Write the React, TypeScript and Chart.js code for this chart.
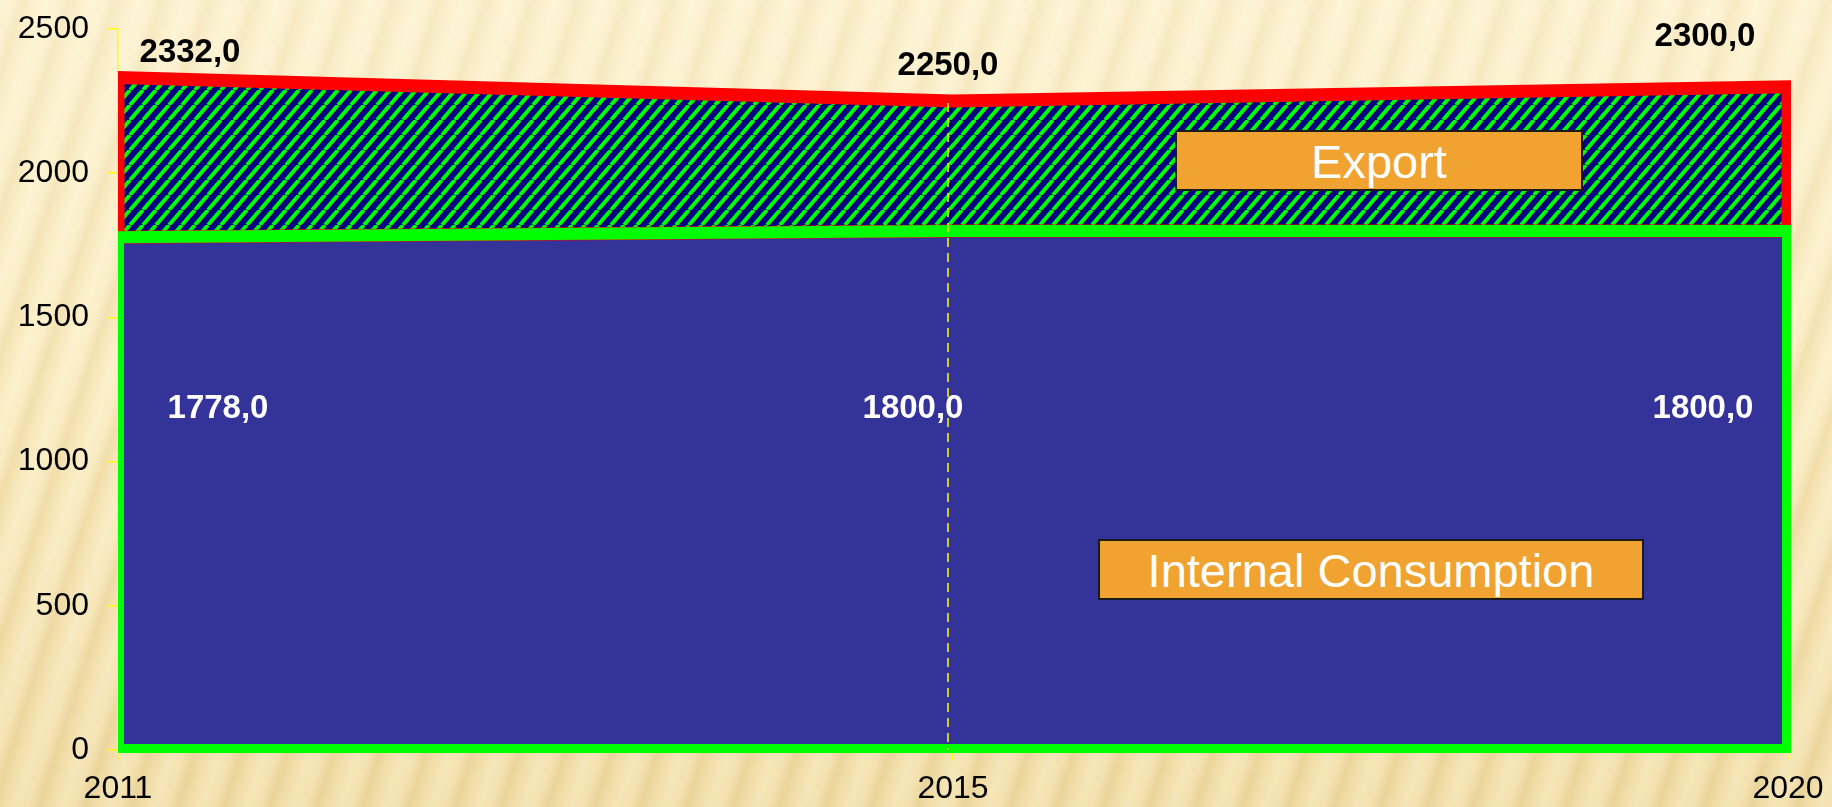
import React, { useEffect, useRef } from "react";
import { Chart, registerables } from "chart.js";

Chart.register(...registerables);

// ---------- data ----------
const years = ["2011", "2015", "2020"];
const internalConsumption = [1778, 1800, 1800];
const totalProduction = [2332, 2250, 2300];
const yTicks = [0, 500, 1000, 1500, 2000, 2500];
const seriesNames = ["Internal Consumption", "Export"];

// ---------- styling ----------
const FONT = "'Liberation Sans', Arial, Helvetica, sans-serif";
const totalLabelOffsets = [
  [72, -15],
  [-5, -26],
  [-83, -41],
];
const internalLabelOffsets = [
  [100, 181],
  [-40, 187],
  [-85, 187],
];

const fmt = (v: number) => v.toFixed(1).replace(".", ",");

function makeHatch(): CanvasPattern | string {
  const w = 13;
  const h = 15;
  const c = document.createElement("canvas");
  c.width = w;
  c.height = h;
  const g = c.getContext("2d");
  if (!g) return "#000080";
  g.fillStyle = "#000080";
  g.fillRect(0, 0, w, h);
  g.strokeStyle = "#00FF00";
  g.lineWidth = 4;
  for (const off of [-w, 0, w]) {
    g.beginPath();
    g.moveTo(off, h);
    g.lineTo(off + w, 0);
    g.stroke();
  }
  const p = g.createPattern(c, "repeat");
  return p || "#000080";
}

const overlayPlugin = {
  id: "overlayPlugin",
  afterDatasetsDraw(chart: any) {
    const ctx: CanvasRenderingContext2D = chart.ctx;
    const area = chart.chartArea;
    const yScale = chart.scales.y;
    const inner = chart.getDatasetMeta(0).data;
    const total = chart.getDatasetMeta(1).data;
    const y0 = yScale.getPixelForValue(0);
    const n = inner.length;

    ctx.save();
    ctx.beginPath();
    ctx.rect(area.left, 0, area.right - area.left + 3, area.bottom + 3);
    ctx.clip();
    ctx.lineJoin = "miter";

    // export outline (red)
    ctx.beginPath();
    total.forEach((p: any, i: number) => (i ? ctx.lineTo(p.x, p.y) : ctx.moveTo(p.x, p.y)));
    for (let i = n - 1; i >= 0; i--) ctx.lineTo(inner[i].x, inner[i].y);
    ctx.closePath();
    ctx.strokeStyle = "#FF0000";
    ctx.lineWidth = 13;
    ctx.stroke();

    // internal outline (green)
    ctx.beginPath();
    ctx.moveTo(inner[0].x, y0);
    inner.forEach((p: any) => ctx.lineTo(p.x, p.y));
    ctx.lineTo(inner[n - 1].x, y0);
    ctx.closePath();
    ctx.strokeStyle = "#00FF00";
    ctx.lineWidth = 12;
    ctx.stroke();
    ctx.restore();

    // drop lines for inner categories
    ctx.save();
    ctx.strokeStyle = "#FFFF00";
    ctx.lineWidth = 1.5;
    ctx.setLineDash([9, 6]);
    for (let i = 1; i < n - 1; i++) {
      ctx.beginPath();
      ctx.moveTo(total[i].x - 5, total[i].y + 2);
      ctx.lineTo(total[i].x - 5, y0);
      ctx.stroke();
    }
    ctx.restore();

    // data labels
    ctx.save();
    ctx.font = `bold 33px ${FONT}`;
    ctx.textAlign = "center";
    ctx.textBaseline = "alphabetic";
    ctx.fillStyle = "#000000";
    total.forEach((p: any, i: number) => {
      const [dx, dy] = totalLabelOffsets[i];
      ctx.fillText(fmt(totalProduction[i]), p.x + dx, p.y + dy);
    });
    ctx.fillStyle = "#FFFFFF";
    inner.forEach((p: any, i: number) => {
      const [dx, dy] = internalLabelOffsets[i];
      ctx.fillText(fmt(internalConsumption[i]), p.x + dx, p.y + dy);
    });
    ctx.restore();
  },
};

export default function App() {
  const ref = useRef<HTMLCanvasElement | null>(null);

  useEffect(() => {
    if (!ref.current) return;
    const hatch = makeHatch();
    const chart = new Chart(ref.current, {
      type: "line",
      data: {
        labels: years,
        datasets: [
          {
            label: seriesNames[0],
            data: internalConsumption,
            fill: "origin",
            backgroundColor: "#333399",
            borderWidth: 0,
            pointRadius: 0,
            tension: 0,
          },
          {
            label: seriesNames[1],
            data: totalProduction,
            fill: "-1",
            backgroundColor: hatch as any,
            borderWidth: 0,
            pointRadius: 0,
            tension: 0,
          },
        ],
      },
      options: {
        responsive: false,
        animation: false,
        layout: { padding: { top: 29, right: 44, left: 0, bottom: 0 } },
        plugins: {
          legend: { display: false },
          tooltip: { enabled: false },
        },
        scales: {
          x: {
            type: "category",
            offset: false,
            z: 1,
            grid: {
              drawOnChartArea: false,
              drawTicks: true,
              tickLength: 10,
              color: "#FFFF00",
              lineWidth: 1.5,
            },
            border: { color: "#FFFF00", width: 1.5 },
            ticks: {
              color: "#000000",
              font: { family: FONT, size: 32 },
              padding: 10,
              maxRotation: 0,
              autoSkip: false,
            },
            afterFit: (s: any) => {
              s.height = 57;
              s.paddingLeft = 0;
              s.paddingRight = 0;
            },
          },
          y: {
            min: yTicks[0],
            max: yTicks[yTicks.length - 1],
            z: 1,
            afterBuildTicks: (s: any) => {
              s.ticks = yTicks.map((v) => ({ value: v }));
            },
            grid: {
              drawOnChartArea: false,
              drawTicks: true,
              tickLength: 10,
              color: "#FFFF00",
              lineWidth: 1.5,
            },
            border: { color: "#FFFF00", width: 1.5 },
            ticks: {
              color: "#000000",
              font: { family: FONT, size: 32 },
              padding: 19,
              callback: (v: any) => String(v),
            },
            afterFit: (s: any) => {
              s.width = 118;
              s.paddingTop = 0;
              s.paddingBottom = 0;
            },
          },
        },
      },
      plugins: [overlayPlugin],
    });
    return () => chart.destroy();
  }, []);

  const boxStyle: React.CSSProperties = {
    position: "absolute",
    boxSizing: "border-box",
    background: "#F0A330",
    border: "2px solid #1a1a1a",
    color: "#FFFFFF",
    fontFamily: FONT,
    fontSize: 47,
    display: "flex",
    alignItems: "center",
    justifyContent: "center",
    lineHeight: 1,
    paddingTop: 2,
  };

  return (
    <div
      style={{
        position: "fixed",
        left: 0,
        top: 0,
        width: 1832,
        height: 807,
        overflow: "hidden",
        background:
          "linear-gradient(180deg, rgba(255,250,232,0.45) 0%, rgba(255,250,232,0.15) 45%, rgba(190,150,60,0.12) 100%), " +
          "repeating-linear-gradient(108deg, #FCF0C8 0px, #FAEBC0 12px, #F0DCA6 22px, #F7E6B6 32px, #FCF0C8 44px)",
      }}
    >
      <canvas ref={ref} width={1832} height={807} style={{ position: "absolute", left: 0, top: 0, width: 1832, height: 807 }} />
      <div style={{ ...boxStyle, left: 1175, top: 130, width: 408, height: 61 }}>{seriesNames[1]}</div>
      <div style={{ ...boxStyle, left: 1098, top: 539, width: 546, height: 61 }}>{seriesNames[0]}</div>
    </div>
  );
}
